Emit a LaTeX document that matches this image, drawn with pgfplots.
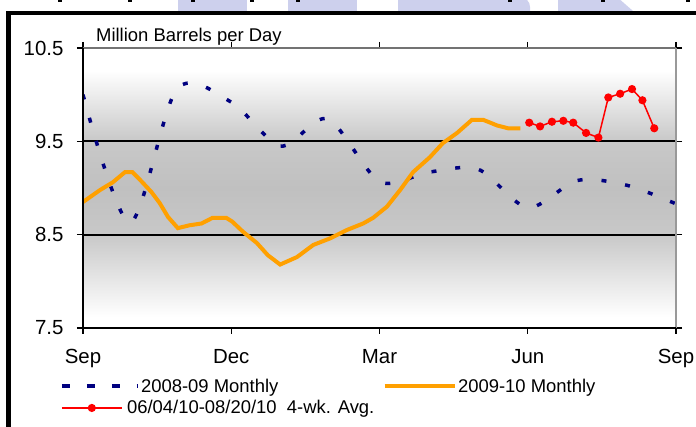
\documentclass[border=0pt]{standalone}
\usepackage{fontspec}
\setmainfont{Liberation Sans}
\usepackage{pgfplots}
\pgfplotsset{compat=1.18}
\definecolor{navyline}{RGB}{0,0,128}
\definecolor{orangeline}{RGB}{255,160,0}
\definecolor{lav}{RGB}{205,208,237}
\definecolor{gA}{RGB}{200,200,200}
\definecolor{gB}{RGB}{192,192,192}
\pgfdeclareverticalshading{plotbg}{100bp}{color(0bp)=(white); color(25bp)=(white); color(27bp)=(white); color(41.7bp)=(gA); color(50bp)=(gB); color(58.3bp)=(gA); color(71bp)=(white); color(100bp)=(white)}
\begin{document}
\begin{tikzpicture}
\useasboundingbox (0,0) rectangle (696bp,427bp);
\begin{scope}
\clip (0,0) rectangle (696bp,427bp);
\begin{pgfinterruptboundingbox}
\fill[lav] (178bp,416bp) rectangle (247bp,430bp);
\fill[lav] (288bp,416bp) rectangle (357bp,430bp);
\fill[lav] (398bp,416bp) -- (398bp,430bp) -- (520bp,430bp) to[out=0,in=90] (530bp,420bp) -- (530bp,416bp) -- cycle;
\fill[lav] (558bp,416bp) -- (558bp,430bp) -- (617bp,430bp) -- (633bp,416bp) -- cycle;
\foreach \xx in {60,130,193,252,298,510,603,688}{\fill[black] ({\xx*1bp-2.5bp},425bp) rectangle ({\xx*1bp+2bp},428bp);}
\draw[black, line width=4.5bp] (8.5bp,-10bp) -- (8.5bp,414bp) -- (710bp,414bp);
\end{pgfinterruptboundingbox}
\end{scope}
\begin{axis}[
  scale only axis, width=593bp, height=280bp,
  at={(83bp,99bp)}, anchor=south west,
  xmin=0, xmax=12, ymin=7.5, ymax=10.5,
  xtick={0,3,6,9,12}, xticklabels={Sep,Dec,Mar,Jun,Sep},
  ytick={7.5,8.5,9.5,10.5}, yticklabels={7.5,8.5,9.5,10.5},
  tick align=outside, major tick length=6bp,
  tick style={black, line width=1.2bp},
  tick label style={font=\fontsize{20.5}{24}\selectfont},
  yticklabel style={xshift=-10bp},
  xticklabel style={yshift=-12bp},
  axis line style={draw=none},
  axis background/.style={shading=plotbg},
  extra y ticks={8.5,9.5}, extra y tick labels={},
  extra y tick style={grid=major, major tick length=0pt, major grid style={black, line width=1.7bp}},
  legend columns=2,
  legend cell align=left,
  legend style={at={(-0.039,-0.175)}, anchor=north west, draw=none, fill=none,
    font=\fontsize{18.5}{21}\selectfont, inner sep=0pt, row sep=4bp,
    nodes={inner sep=1.5bp}},
]
\addplot[navyline, line width=3.5bp, dash pattern=on 5bp off 19bp, smooth, tension=0.5,
  legend image code/.code={\draw[navyline, line width=3.5bp, dash pattern=on 8bp off 17bp] (0bp,0bp) -- (76bp,0bp);}]
  coordinates {(0,10.0) (0.95,8.63) (1.9,10.06) (3,9.92) (4,9.45) (4.95,9.74) (6,9.07) (7,9.17) (8,9.2) (9,8.79) (10,9.08) (11,9.03) (12,8.83)};
\addlegendentry{\makebox[240bp][l]{2008-09 Monthly}}
\addplot[orangeline, line width=4bp,
  legend image code/.code={\draw[orangeline, line width=4bp] (0bp,0bp) -- (70bp,0bp);}]
  coordinates {(0,8.85) (0.35,8.98) (0.6,9.06) (0.85,9.17) (1.0,9.17) (1.15,9.09) (1.38,8.96) (1.55,8.84) (1.72,8.69) (1.92,8.57) (2.15,8.60) (2.4,8.62) (2.62,8.68) (2.9,8.68) (3.02,8.64) (3.24,8.53) (3.52,8.41) (3.74,8.28) (3.99,8.18) (4.33,8.26) (4.66,8.39) (5.0,8.46) (5.34,8.55) (5.67,8.62) (5.87,8.68) (6.15,8.80) (6.42,8.98) (6.68,9.17) (7.02,9.33) (7.28,9.48) (7.57,9.59) (7.87,9.73) (8.1,9.73) (8.38,9.67) (8.6,9.64) (8.85,9.64)};
\addlegendentry{2009-10 Monthly}
\addplot[red, line width=1.5bp, mark=*, mark size=3.3bp, mark options={fill=red, draw=red},
  legend image code/.code={\draw[red, line width=1.5bp] (0bp,0bp) -- (60bp,0bp); \fill[red] (30bp,0bp) circle (3.3bp); \path (76bp,0bp);}]
  coordinates {(9.03,9.70) (9.25,9.66) (9.49,9.71) (9.72,9.72) (9.92,9.70) (10.18,9.59) (10.43,9.54) (10.63,9.97) (10.87,10.01) (11.11,10.06) (11.32,9.94) (11.56,9.64)};
\addlegendentry{\hspace*{-14bp}06/04/10-08/20/10\ \ 4-wk. Avg.}
\end{axis}
\draw[black!55, line width=1.2bp] (83bp,379bp) -- (676bp,379bp);
\draw[black!40, line width=2bp] (676bp,379bp) -- (676bp,99bp);
\draw[black, line width=1.8bp] (83bp,379bp) -- (83bp,99bp) -- (676bp,99bp);
\node[anchor=west, inner sep=0pt, font=\fontsize{18.5}{21}\selectfont] at (96bp,390bp) {Million Barrels per Day};
\end{tikzpicture}
\end{document}
